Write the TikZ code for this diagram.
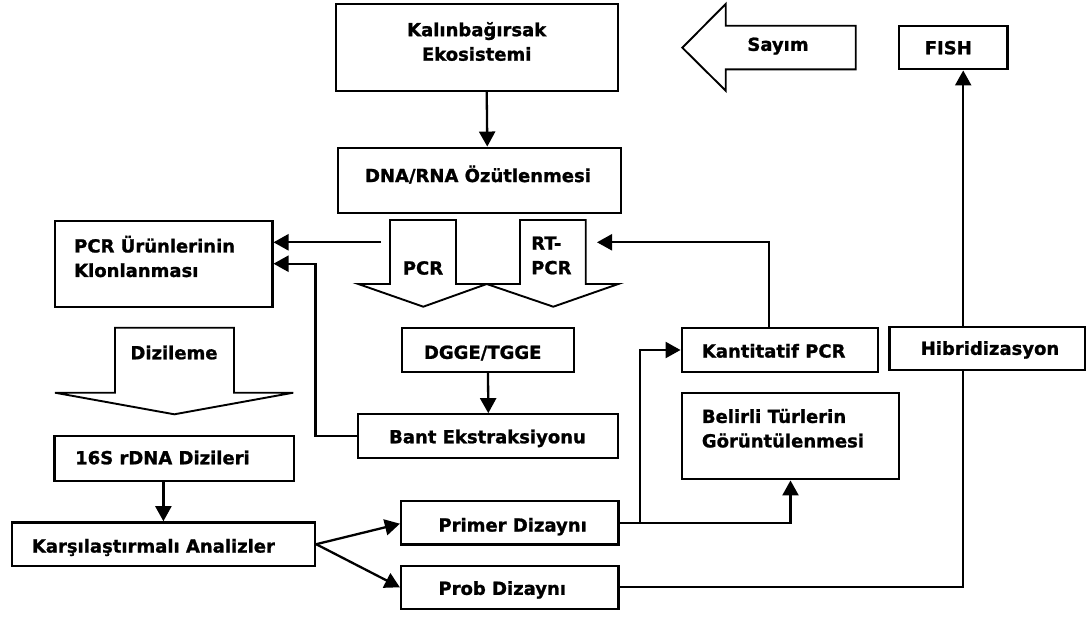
\documentclass[tikz,border=0pt]{standalone}
\usepackage{fontspec}
\setmainfont{DejaVu Sans}[BoldFeatures={FakeBold=1.2}]
\usetikzlibrary{arrows.meta,calc}
\begin{document}
\begin{tikzpicture}[x=1pt,y=-1pt,
  box/.style={draw,line width=2.3pt,inner sep=0pt},
  txt/.style={font=\fontsize{18}{24.5}\selectfont\bfseries,inner sep=0pt},
  lbl/.style={txt,text height=13.1pt,text depth=0pt},
  arr/.style={line width=2.3pt,-{Triangle[length=15pt,width=16pt]}},
  ln/.style={line width=2.3pt},
  barrow/.style={draw,line width=1.9pt,line join=miter}]
\useasboundingbox (0,0) rectangle (1087,616);
% boxes
\node[box,minimum width=282pt,minimum height=86.7pt] (kal) at (476.7,47.3) {};
\node[box,minimum width=282.7pt,minimum height=65.6pt] (dna) at (479.3,180.5) {};
\node[box,minimum width=217.3pt,minimum height=86pt] (pcr) at (163.7,263.7) {};
\node[box,minimum width=108.3pt,minimum height=43.6pt] (fish) at (953.2,47.5) {};
\node[box,minimum width=172.6pt,minimum height=43.4pt] (dgge) at (488,350) {};
\node[box,minimum width=260pt,minimum height=43.4pt] (bant) at (488.3,436) {};
\node[box,minimum width=196pt,minimum height=43.4pt] (kant) at (779.7,350) {};
\node[box,minimum width=195.7pt,minimum height=43.3pt] (hib) at (987.2,348.3) {};
\node[box,minimum width=217.6pt,minimum height=86pt] (bel) at (790.5,436.3) {};
\node[box,minimum width=239.7pt,minimum height=44.7pt] (s16) at (174.2,458.3) {};
\node[box,minimum width=303.3pt,minimum height=43.7pt] (kars) at (163.4,544.2) {};
\node[box,minimum width=217.3pt,minimum height=43.3pt] (primer) at (509.7,522.7) {};
\node[box,minimum width=217.3pt,minimum height=42.7pt] (prob) at (509.7,587.3) {};
% block arrows
\draw[barrow] (390,220) -- (456,220) -- (456,284) -- (486.7,284) -- (423.3,306.7) -- (358.3,284) -- (390,284) -- cycle;
\draw[barrow] (520,220) -- (585.7,220) -- (585.7,284) -- (618.3,284) -- (553.3,306.7) -- (486.7,284) -- (520,284) -- cycle;
\draw[barrow] (115,327.7) -- (234,327.7) -- (234,392.7) -- (293.3,392.7) -- (174.3,414.3) -- (55,392.7) -- (115,392.7) -- cycle;
\draw[barrow] (682.3,47.7) -- (725.7,4) -- (725.7,25.7) -- (855.7,25.7) -- (855.7,69.3) -- (725.7,69.3) -- (725.7,90.7) -- cycle;
% texts
\node[txt,align=center] (kalT) at (476.7,41.5) {Kalınbağırsak\\Ekosistemi};
\node[lbl] (dnaT) at (478,175.5) {DNA/RNA Özütlenmesi};
\node[txt,align=left,anchor=west] (pcrT) at (74,256.5) {PCR Ürünlerinin\\Klonlanması};
\node[lbl] (dizT) at (174,352.7) {Dizileme};
\node[lbl] (pcrA) at (423,268) {PCR};
\node[txt,align=left,anchor=west] (rtA) at (531,255.5) {RT-\\PCR};
\node[lbl] (sayT) at (778,44.3) {Sayım};
\node[lbl] (fishT) at (948.3,47.7) {FISH};
\node[lbl] (dggeT) at (482.7,352.3) {DGGE/TGGE};
\node[lbl] (bantT) at (487.5,436.7) {Bant Ekstraksiyonu};
\node[lbl,anchor=west] (kantT) at (701.7,351) {Kantitatif PCR};
\node[lbl] (hibT) at (990,348.3) {Hibridizasyon};
\node[txt,align=left,anchor=west] (belT) at (701.7,428.3) {Belirli Türlerin\\Görüntülenmesi};
\node[lbl,anchor=west] (s16T) at (75,457.7) {16S rDNA Dizileri};
\node[lbl,anchor=west] (karsT) at (31.7,546) {Karşılaştırmalı Analizler};
\node[lbl,anchor=west] (primT) at (438.3,525) {Primer Dizaynı};
\node[lbl,anchor=west] (probT) at (438.3,588.3) {Prob Dizaynı};
% connectors
\draw[arr] ([xshift=10pt]kal.south) -- ([xshift=8pt]dna.north);
\coordinate (pcrL) at (381,242.3);
\draw[arr] (pcrL) -- (pcrL -| pcr.east);
\draw[arr] (bant.west) -| ([xshift=42pt]pcr.east) -- (pcr.east);
\draw[arr] (dgge.south) -- (bant.north);
\draw[arr] (s16.south -| kars.north) -- (kars.north);
\draw[arr] (kars.east) -- ([yshift=-1pt]primer.west);
\draw[arr] (kars.east) -- (prob.west);
\draw[arr] (primer.east) -| (bel.south);
\coordinate (br) at ([xshift=20.7pt]primer.east);
\draw[arr] (br) |- (kant.west);
\coordinate (rtR) at (597,242.3);
\draw[arr] ([xshift=-10.4pt]kant.north) |- (rtR);
\draw[ln] (prob.east) -| ([xshift=-24pt]hib.south);
\coordinate (hx) at ([xshift=-24pt]hib.north);
\draw[arr] (hx) -- (hx |- fish.south);
\end{tikzpicture}
\end{document}
